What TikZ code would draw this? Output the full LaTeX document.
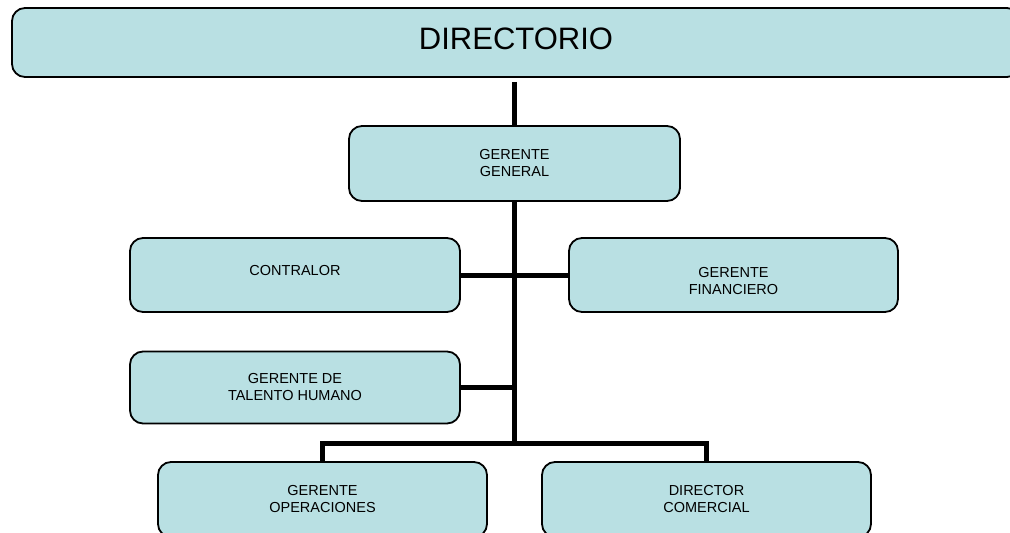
\documentclass[tikz,border=0pt]{standalone}
\usepackage{fontspec}
\setmainfont{Liberation Sans}
\usetikzlibrary{positioning}
\definecolor{celeste}{RGB}{185,224,227}

\begin{document}
\begin{tikzpicture}[x=1pt,y=-1pt,
	puesto/.style={draw,line width=1.8pt,fill=celeste,rounded corners=13pt,minimum width=330pt,minimum height=74pt,inner sep=0pt,align=center,font=\fontsize{14.5}{17}\selectfont},
	conector/.style={line width=5pt}]

\useasboundingbox (0,0) rectangle (1010,533);
\clip (0,0) rectangle (1010,533);

\node[puesto,minimum width=1008pt,minimum height=69pt,text depth=8pt,font=\fontsize{31}{36}\selectfont] (p1) at (516,42.5) {DIRECTORIO};
\node[puesto,minimum width=331pt,minimum height=75pt] (p2) at (514.5,163.5) {GERENTE\\GENERAL};
\node[puesto,text depth=10pt] (p3) at (295,275) {CONTRALOR};
\node[puesto,minimum width=329pt,text height=39.4pt,text depth=0pt] (p4) at (733.5,275) {GERENTE\\FINANCIERO};
\node[puesto,minimum height=72pt] (p5) at (295,387.5) {GERENTE DE\\TALENTO HUMANO};
\node[puesto,minimum width=329pt,minimum height=75pt] (p6) at (322.5,499.5) {GERENTE\\OPERACIONES};
\node[puesto,minimum width=329pt,minimum height=75pt] (p7) at (706.5,499.5) {DIRECTOR\\COMERCIAL};

\coordinate (c1) at (514.5,443.5);
\coordinate (c2) at (514.5,387.5);

\draw[conector,shorten <=4pt] (p2.north |- p1.south) -- (p2.north);
\draw[conector] (p2.south) -- (c1);
\draw[conector] (p3.east) -- (p4.west);
\draw[conector] (p5.east) -- (c2);
\draw[conector] (p6.north) -- (p6.north |- c1) -- (p7.north |- c1) -- (p7.north);

\end{tikzpicture}
\end{document}
